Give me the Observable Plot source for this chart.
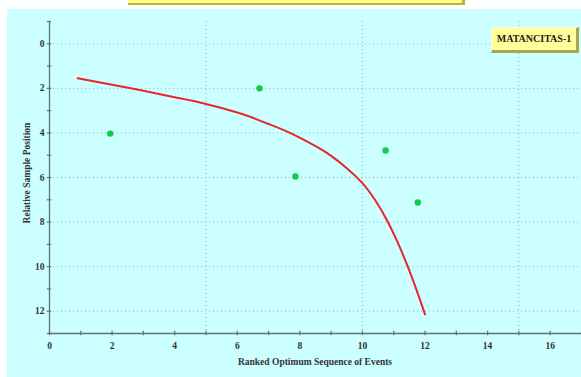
<!DOCTYPE html>
<html>
<head>
<meta charset="utf-8">
<script src="https://cdn.jsdelivr.net/npm/d3@7"></script>
<script src="https://cdn.jsdelivr.net/npm/@observablehq/plot@0.6"></script>
<style>
  html, body { margin: 0; padding: 0; background: #ffffff; }
  #wrap { position: relative; width: 581px; height: 377px; overflow: hidden; font-family: "Liberation Serif", "Times New Roman", serif; }
  #panel { position: absolute; left: 7px; top: 9px; right: 0; bottom: 0; background: #ccffff; }
  #title { position: absolute; left: 128px; top: -16px; width: 334px; height: 19px; background: #ffff88;
           border-right: 3px solid #b5b54a; border-bottom: 2px solid #b5b54a; box-sizing: content-box;
           font-weight: bold; font-size: 13px; text-align: center; line-height: 16px; color: #222;
           white-space: nowrap; overflow: hidden; }
  #well { position: absolute; left: 491px; top: 27px; width: 84px; height: 22px; background: #ffff99;
          border-top: 1px solid #ffffcc; border-left: 1px solid #ffffcc;
          border-right: 3px solid #a8a850; border-bottom: 3px solid #a8a850;
          font-weight: bold; font-size: 10px; line-height: 22px; text-align: center; color: #1a1a1a; }
  #chart { position: absolute; left: 0; top: 0; }
  #ylab { position: absolute; left: 27px; top: 173px; transform: translate(-50%, -50%) rotate(-90deg);
          white-space: nowrap; font-weight: bold; font-size: 9.5px; color: #333; }
  #xlab { position: absolute; left: 315px; top: 362px; transform: translate(-50%, -50%);
          white-space: nowrap; font-weight: bold; font-size: 9.5px; color: #333; }
</style>
</head>
<body>
<div id="wrap">
  <div id="panel"></div>
  <div id="title">Scaling of Events by Sample Depth</div>
  <div id="chart"></div>
  <div id="well">MATANCITAS-1</div>
  <div id="ylab">Relative Sample Position</div>
  <div id="xlab">Ranked Optimum Sequence of Events</div>
</div>
<script>
// Fitted curve
const curveX = [0.9, 2.0, 3.0, 4.0, 5.0, 6.0, 6.5, 7.0, 7.7, 8.56, 9.0, 9.5, 10.0, 10.4, 10.8, 11.2, 11.6, 12.0];
const curveY = [1.55, 1.84, 2.11, 2.40, 2.70, 3.08, 3.32, 3.60, 4.01, 4.64, 5.03, 5.58, 6.25, 7.0, 7.96, 9.15, 10.55, 12.14];
// Observed events
const pointX = [1.94, 6.71, 7.86, 10.74, 11.77];
const pointY = [4.03, 2.0, 5.95, 4.79, 7.12];
// Axis ticks
const xTickLabels = [0, 2, 4, 6, 8, 10, 12, 14, 16];
const xMinorTicks = [0, 1, 2, 3, 4, 5, 6, 7, 8, 9, 10, 11, 12, 13, 14, 15, 16, 17];
const xGrid = [5, 10, 15];
const yTickLabels = [0, 2, 4, 6, 8, 10, 12];
const yMinorTicks = [-1, 0, 1, 2, 3, 4, 5, 6, 7, 8, 9, 10, 11, 12, 13];

const curve = curveX.map((x, i) => ({x, y: curveY[i]}));
const points = pointX.map((x, i) => ({x, y: pointY[i]}));

const axisColor = "#5c7373";
const gridColor = "#95aeb0";

const chart = Plot.plot({
  width: 581,
  height: 377,
  marginLeft: 49,
  marginRight: 0,
  marginTop: 21,
  marginBottom: 44,
  style: {background: "transparent", fontFamily: "Liberation Serif, serif", fontSize: "9.5px", fontWeight: "bold", color: "#333"},
  x: {domain: [0, 17], label: null},
  y: {domain: [-1, 13], reverse: true, label: null},
  marks: [
    Plot.ruleX(xGrid, {stroke: gridColor, strokeDasharray: "1,3", strokeWidth: 1}),
    Plot.ruleY(yTickLabels, {stroke: gridColor, strokeDasharray: "1,3", strokeWidth: 1}),
    Plot.ruleX([0], {y1: -1, y2: 13, stroke: axisColor, strokeWidth: 1.3}),
    Plot.ruleY([13], {x1: 0, x2: 17, stroke: axisColor, strokeWidth: 1.3}),
    Plot.ruleX(xMinorTicks, {y1: 12.9, y2: 13.1, stroke: axisColor, strokeWidth: 1.2}),
    Plot.ruleY(yMinorTicks, {x1: -0.07, x2: 0.07, stroke: axisColor, strokeWidth: 1.2}),
    Plot.axisX({ticks: xTickLabels, tickSize: 0, tickPadding: 9, fill: "#333", anchor: "bottom"}),
    Plot.axisY({ticks: yTickLabels, tickSize: 0, tickPadding: 5, fill: "#333", anchor: "left"}),
    Plot.line(curve, {x: "x", y: "y", stroke: "#e8262b", strokeWidth: 2, curve: "natural"}),
    Plot.dot(points, {x: "x", y: "y", r: 3.2, fill: "#11cc44", stroke: "none"})
  ]
});
document.getElementById("chart").appendChild(chart);
</script>
</body>
</html>
